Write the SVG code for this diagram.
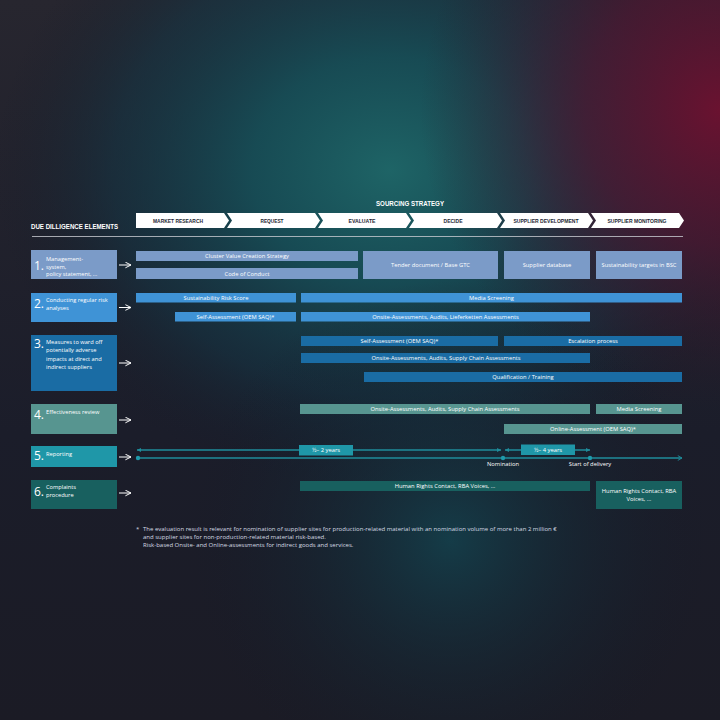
<svg xmlns="http://www.w3.org/2000/svg" width="720" height="720" viewBox="0 0 720 720">
<defs>
<radialGradient id="gTeal" cx="390" cy="170" r="360" gradientUnits="userSpaceOnUse" gradientTransform="translate(390 170) scale(1.1 0.9) translate(-390 -170)">
<stop offset="0" stop-color="#1e6466" stop-opacity="1"/>
<stop offset="0.35" stop-color="#164f58" stop-opacity="0.9"/>
<stop offset="0.7" stop-color="#123848" stop-opacity="0.5"/>
<stop offset="1" stop-color="#141a28" stop-opacity="0"/>
</radialGradient>
<radialGradient id="gRed" cx="720" cy="110" r="300" gradientUnits="userSpaceOnUse">
<stop offset="0" stop-color="#6a1230" stop-opacity="1"/>
<stop offset="0.45" stop-color="#4d1630" stop-opacity="0.75"/>
<stop offset="1" stop-color="#2a1a2a" stop-opacity="0"/>
</radialGradient>
<radialGradient id="gBot" cx="450" cy="540" r="260" gradientUnits="userSpaceOnUse">
<stop offset="0" stop-color="#134450" stop-opacity="0.8"/>
<stop offset="1" stop-color="#141a28" stop-opacity="0"/>
</radialGradient>
<linearGradient id="gBase" x1="0" y1="0" x2="0" y2="1">
<stop offset="0" stop-color="#27262f"/>
<stop offset="0.6" stop-color="#1b1d2a"/>
<stop offset="1" stop-color="#1b1b25"/>
</linearGradient>
<marker id="mArr" viewBox="0 0 10 10" refX="9" refY="5" markerWidth="7" markerHeight="7" markerUnits="userSpaceOnUse" orient="auto">
<path d="M1,1 L9,5 L1,9" fill="none" stroke="#ffffff" stroke-width="1.4"/>
</marker>
<marker id="mTl" viewBox="0 0 10 10" refX="9" refY="5" markerWidth="5" markerHeight="5" markerUnits="userSpaceOnUse" orient="auto-start-reverse">
<path d="M1,1 L9,5 L1,9 Z" fill="#1f8c9b"/>
</marker>
<marker id="mEnd" viewBox="0 0 10 10" refX="9" refY="5" markerWidth="6" markerHeight="6" markerUnits="userSpaceOnUse" orient="auto">
<path d="M2,1 L9,5 L2,9" fill="none" stroke="#1f8c9b" stroke-width="1.5"/>
</marker>
<style>
.chev{fill:#ffffff}
.ct{font-family:"Liberation Sans",Arial,sans-serif;font-weight:bold;font-size:6px;fill:#1d2733;text-anchor:middle}
.h{font-family:"Liberation Sans",Arial,sans-serif;font-weight:bold;fill:#ffffff}
.num{font-family:"Open Sans","Noto Sans",sans-serif;font-size:12px;fill:#ffffff}
.lt{font-family:"Open Sans","Noto Sans",sans-serif;font-size:5.7px;fill:#ffffff}
.bt{font-family:"Open Sans","Noto Sans",sans-serif;font-size:5.8px;fill:#ffffff;text-anchor:middle}
.fn{font-family:"Open Sans","Noto Sans",sans-serif;font-size:6px;fill:#d6dae2}
.r1{fill:#7b9bc8}
.r2{fill:#3f93d6}
.r3{fill:#1a6ca4}
.r4{fill:#579590}
.r5{fill:#1f97a8}
.r6{fill:#18605f}
.arr{stroke:#ffffff;stroke-width:1;fill:none;marker-end:url(#mArr)}
.tl{stroke:#1f8c9b;stroke-width:1.3;fill:none}
.dot{fill:#1f9aab}
</style>
</defs>

<rect x="0" y="0" width="720" height="720" fill="url(#gBase)"/>
<rect x="0" y="0" width="720" height="720" fill="url(#gTeal)"/>
<rect x="0" y="0" width="720" height="720" fill="url(#gRed)"/>
<rect x="0" y="0" width="720" height="720" fill="url(#gBot)"/>

<g id="header">
<text class="h" x="376" y="206" font-size="8" textLength="68" lengthAdjust="spacingAndGlyphs">SOURCING STRATEGY</text>
<text class="h" x="31" y="229" font-size="7.5" textLength="87" lengthAdjust="spacingAndGlyphs">DUE DILLIGENCE ELEMENTS</text>
<line x1="32" y1="236.5" x2="683" y2="236.5" stroke="#c9ccd2" stroke-width="0.8"/>
</g>

<g id="phases">
<path class="chev" d="M136,213 H224 L229,220.5 L224,228 H136 Z"/>
<path class="chev" d="M227,213 H315 L320,220.5 L315,228 H227 L232,220.5 Z"/>
<path class="chev" d="M318,213 H406 L411,220.5 L406,228 H318 L323,220.5 Z"/>
<path class="chev" d="M409,213 H497 L502,220.5 L497,228 H409 L414,220.5 Z"/>
<path class="chev" d="M500,213 H588 L593,220.5 L588,228 H500 L505,220.5 Z"/>
<path class="chev" d="M591,213 H679 L684,220.5 L679,228 H591 L596,220.5 Z"/>
<text class="ct" x="178" y="222.8" textLength="50" lengthAdjust="spacingAndGlyphs">MARKET RESEARCH</text>
<text class="ct" x="272" y="222.8" textLength="23" lengthAdjust="spacingAndGlyphs">REQUEST</text>
<text class="ct" x="362" y="222.8" textLength="27" lengthAdjust="spacingAndGlyphs">EVALUATE</text>
<text class="ct" x="453" y="222.8" textLength="19" lengthAdjust="spacingAndGlyphs">DECIDE</text>
<text class="ct" x="546" y="222.8" textLength="65" lengthAdjust="spacingAndGlyphs">SUPPLIER DEVELOPMENT</text>
<text class="ct" x="637" y="222.8" textLength="59" lengthAdjust="spacingAndGlyphs">SUPPLIER MONITORING</text>
</g>

<g id="el1">
<rect class="r1" x="31" y="250" width="86" height="29"/>
<text class="num" x="34" y="270">1.</text>
<text class="lt" x="46" y="261">Management-</text>
<text class="lt" x="46" y="268.5">system,</text>
<text class="lt" x="46" y="276">policy statement, ...</text>
</g>
<g id="el2">
<rect class="r2" x="31" y="293" width="86" height="29"/>
<text class="num" x="34" y="308">2.</text>
<text class="lt" x="46" y="302">Conducting regular risk</text>
<text class="lt" x="46" y="310">analyses</text>
</g>
<g id="el3">
<rect class="r3" x="31" y="335" width="86" height="56"/>
<text class="num" x="34" y="348">3.</text>
<text class="lt" x="46" y="344">Measures to ward off</text>
<text class="lt" x="46" y="352.3">potentially adverse</text>
<text class="lt" x="46" y="360.6">impacts at direct and</text>
<text class="lt" x="46" y="368.9">indirect suppliers</text>
</g>
<g id="el4">
<rect class="r4" x="31" y="404" width="86" height="30"/>
<text class="num" x="34" y="419">4.</text>
<text class="lt" x="46" y="414">Effectiveness review</text>
</g>
<g id="el5">
<rect class="r5" x="31" y="446" width="86" height="21"/>
<text class="num" x="34" y="460">5.</text>
<text class="lt" x="46" y="455.5">Reporting</text>
</g>
<g id="el6">
<rect class="r6" x="31" y="480" width="86" height="29"/>
<text class="num" x="34" y="496">6.</text>
<text class="lt" x="46" y="489">Complaints</text>
<text class="lt" x="46" y="496.5">procedure</text>
</g>

<g id="bars1">
<rect class="r1" x="136" y="251" width="222" height="10"/>
<text class="bt" x="247" y="258">Cluster Value Creation Strategy</text>
<rect class="r1" x="136" y="268" width="222" height="11"/>
<text class="bt" x="247" y="275.5">Code of Conduct</text>
<rect class="r1" x="363" y="251" width="135" height="28"/>
<text class="bt" x="430.5" y="267">Tender document / Base GTC</text>
<rect class="r1" x="504" y="251" width="86" height="28"/>
<text class="bt" x="547" y="267">Supplier database</text>
<rect class="r1" x="596" y="251" width="86" height="28"/>
<text class="bt" x="639" y="267">Sustainability targets in BSC</text>
</g>

<g id="bars2">
<rect class="r2" x="136" y="293" width="160" height="9.5"/>
<text class="bt" x="216" y="299.8">Sustainability Risk Score</text>
<rect class="r2" x="301" y="293" width="381" height="9.5"/>
<text class="bt" x="491.5" y="299.8">Media Screening</text>
<rect class="r2" x="175" y="312" width="121" height="9.5"/>
<text class="bt" x="235.5" y="318.8">Self-Assessment (OEM SAQ)*</text>
<rect class="r2" x="301" y="312" width="289" height="9.5"/>
<text class="bt" x="445.5" y="318.8">Onsite-Assessments, Audits, Lieferketten Assessments</text>
</g>

<g id="bars3">
<rect class="r3" x="301" y="336" width="197" height="10"/>
<text class="bt" x="399.5" y="343">Self-Assessment (OEM SAQ)*</text>
<rect class="r3" x="504" y="336" width="178" height="10"/>
<text class="bt" x="593" y="343">Escalation process</text>
<rect class="r3" x="301" y="353" width="289" height="10"/>
<text class="bt" x="446" y="360">Onsite-Assessments, Audits, Supply Chain Assessments</text>
<rect class="r3" x="364" y="372" width="318" height="10"/>
<text class="bt" x="523" y="379">Qualification / Training</text>
</g>

<g id="bars4">
<rect class="r4" x="300" y="404" width="290" height="10"/>
<text class="bt" x="445" y="411">Onsite-Assessments, Audits, Supply Chain Assessments</text>
<rect class="r4" x="596" y="404" width="86" height="10"/>
<text class="bt" x="639" y="411">Media Screening</text>
<rect class="r4" x="504" y="424" width="178" height="10"/>
<text class="bt" x="593" y="431">Online-Assessment (OEM SAQ)*</text>
</g>

<g id="timeline">
<line class="tl" x1="137" y1="450" x2="501" y2="450" marker-start="url(#mTl)" marker-end="url(#mTl)"/>
<line class="tl" x1="505" y1="450" x2="590" y2="450" marker-start="url(#mTl)" marker-end="url(#mTl)"/>
<line class="tl" x1="138" y1="458" x2="682" y2="458" marker-end="url(#mEnd)"/>
<circle class="dot" cx="138" cy="458" r="2.2"/>
<circle class="dot" cx="503" cy="458" r="2.2"/>
<circle class="dot" cx="590" cy="458" r="2.2"/>
<rect class="r5" x="299" y="445" width="54" height="10.5"/>
<text class="bt" x="326" y="452.3">½– 2 years</text>
<rect class="r5" x="521" y="444.5" width="54" height="10.5"/>
<text class="bt" x="548" y="451.8">½– 4 years</text>
<text class="bt" x="503" y="466" fill="#d6dae2">Nomination</text>
<text class="bt" x="590" y="466" fill="#d6dae2">Start of delivery</text>
</g>

<g id="bars6">
<rect class="r6" x="300" y="481" width="290" height="10"/>
<text class="bt" x="445" y="488">Human Rights Contact, RBA Voices, ...</text>
<rect class="r6" x="596" y="481" width="86" height="28"/>
<text class="bt" x="639" y="493">Human Rights Contact, RBA</text>
<text class="bt" x="639" y="500.5">Voices, ...</text>
</g>

<g id="connectors">
<line class="arr" x1="119" y1="265" x2="131" y2="265"/>
<line class="arr" x1="119" y1="307.5" x2="131" y2="307.5"/>
<line class="arr" x1="119" y1="363" x2="131" y2="363"/>
<line class="arr" x1="119" y1="420" x2="131" y2="420"/>
<line class="arr" x1="119" y1="457" x2="131" y2="457"/>
<line class="arr" x1="119" y1="493" x2="131" y2="493"/>
</g>

<g id="footnote">
<text class="fn" x="136" y="531">*</text>
<text class="fn" x="143" y="531">The evaluation result is relevant for nomination of supplier sites for production-related material with an nomination volume of more than 2 million €</text>
<text class="fn" x="143" y="539">and supplier sites for non-production-related material risk-based.</text>
<text class="fn" x="143" y="547">Risk-based Onsite- and Online-assessments for indirect goods and services.</text>
</g>
</svg>
